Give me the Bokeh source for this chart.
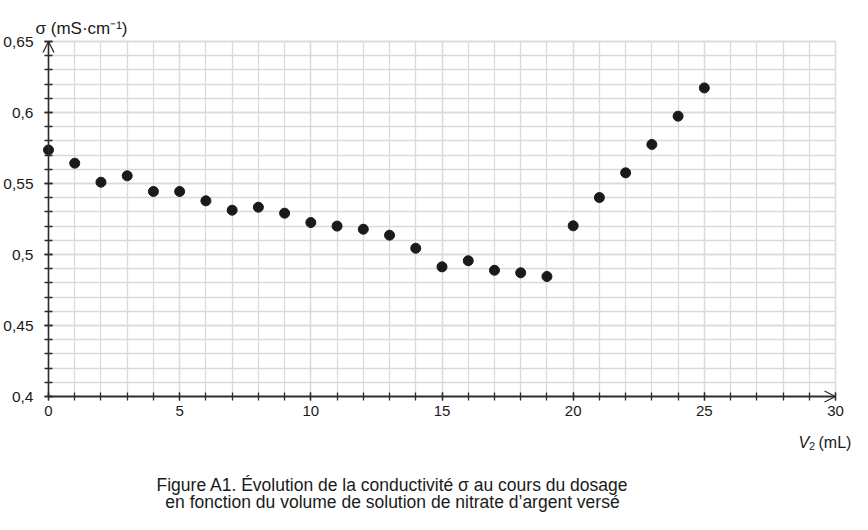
from bokeh.plotting import figure
from bokeh.models import Range1d, FixedTicker, Arrow, OpenHead, Label
from bokeh.embed import file_html
from bokeh.resources import INLINE

# ---------------- data ----------------
volume_ml = [0, 1, 2, 3, 4, 5, 6, 7, 8, 9, 10, 11, 12, 13, 14, 15, 16, 17, 18, 19,
             20, 21, 22, 23, 24, 25]
conductivity = [0.5736, 0.5643, 0.5509, 0.5554, 0.5444, 0.5444, 0.5378, 0.5312,
                0.5333, 0.5291, 0.5225, 0.5200, 0.5178, 0.5136, 0.5044, 0.4913,
                0.4956, 0.4889, 0.4871, 0.4845, 0.5202, 0.5401, 0.5575, 0.5775,
                0.5974, 0.6173]
x_major_ticks = [0, 5, 10, 15, 20, 25, 30]
x_minor_ticks = [0, 1, 2, 3, 4, 5, 6, 7, 8, 9, 10, 11, 12, 13, 14, 15, 16, 17, 18,
                 19, 20, 21, 22, 23, 24, 25, 26, 27, 28, 29, 30]
x_tick_labels = ["0", "5", "10", "15", "20", "25", "30"]
y_major_ticks = [0.4, 0.45, 0.5, 0.55, 0.6, 0.65]
y_minor_ticks = [0.4, 0.41, 0.42, 0.43, 0.44, 0.45, 0.46, 0.47, 0.48, 0.49, 0.5,
                 0.51, 0.52, 0.53, 0.54, 0.55, 0.56, 0.57, 0.58, 0.59, 0.6, 0.61,
                 0.62, 0.63, 0.64, 0.65]
y_tick_labels = ["0,4", "0,45", "0,5", "0,55", "0,6", "0,65"]
x_label_parts = ["V", "2", "(mL)"]
y_label = "σ (mS·cm⁻¹)"
caption_lines = ["Figure A1. Évolution de la conductivité σ au cours du dosage",
                 "en fonction du volume de solution de nitrate d’argent versé"]

# ---------------- layout ----------------
W, H = 852, 514
X0_PX, X1_PX = 48, 835      # canvas px of x=0 and x=30
Y1_PX, Y0_PX = 41, 396      # canvas px of y=0.65 and y=0.4
XMIN, XMAX, YMIN, YMAX = 0, 30, 0.4, 0.65
ux = (X1_PX - X0_PX) / (XMAX - XMIN)
uy = (Y0_PX - Y1_PX) / (YMAX - YMIN)


def px2x(cx):
    return XMIN + (cx - X0_PX) / ux


def px2y(cy):
    return YMIN + (Y0_PX - cy) / uy


FONT = "Liberation Sans"
AX = "#2b2b2b"
GRID = "#dadada"
TXT = "#1a1a1a"

# the frame covers the whole canvas; axes are placed at x=0 / y=0.4
p = figure(width=W, height=H, output_backend="svg", toolbar_location=None,
           x_range=Range1d(px2x(0), px2x(W)),
           y_range=Range1d(px2y(H), px2y(0)),
           min_border_left=0, min_border_right=0,
           min_border_top=0, min_border_bottom=0)
p.outline_line_color = None
p.background_fill_color = "white"
p.border_fill_color = "white"

xt = FixedTicker(ticks=x_major_ticks, minor_ticks=x_minor_ticks)
yt = FixedTicker(ticks=y_major_ticks, minor_ticks=y_minor_ticks)

xa = p.xaxis[0]
xa.ticker = xt
xa.fixed_location = YMIN
xa.bounds = (XMIN, XMAX)
xa.major_label_overrides = dict(zip(x_major_ticks, x_tick_labels))
ya = p.yaxis[0]
ya.ticker = yt
ya.fixed_location = XMIN
ya.bounds = (YMIN, YMAX)
ya.major_label_overrides = dict(zip(y_major_ticks, y_tick_labels))
for a in (xa, ya):
    a.axis_line_color = AX
    a.axis_line_width = 1.3
    a.major_tick_line_color = AX
    a.minor_tick_line_color = AX
    a.major_tick_line_width = 1.3
    a.minor_tick_line_width = 1.3
    a.major_tick_in = 4
    a.major_tick_out = 4
    a.minor_tick_in = 4
    a.minor_tick_out = 4
    a.major_label_text_font = FONT
    a.major_label_text_color = TXT
xa.major_label_text_font_size = "15px"
ya.major_label_text_font_size = "15.5px"
xa.major_label_standoff = 5
ya.major_label_standoff = 11

xg = p.xgrid[0]
xg.ticker = xt
xg.bounds = (XMIN, XMAX)
xg.cross_bounds = (YMIN, YMAX)
yg = p.ygrid[0]
yg.ticker = yt
yg.bounds = (YMIN, YMAX)
yg.cross_bounds = (XMIN, XMAX)
for g in (xg, yg):
    g.grid_line_color = GRID
    g.grid_line_width = 1.3
    g.minor_grid_line_color = GRID
    g.minor_grid_line_width = 1.3

# arrow heads at the ends of the axes
p.add_layout(Arrow(end=OpenHead(size=11, line_color=AX, line_width=1.3),
                   x_start=XMIN, y_start=YMIN, x_end=XMIN, y_end=YMAX,
                   line_color=AX, line_width=1.3))
p.add_layout(Arrow(end=OpenHead(size=11, line_color=AX, line_width=1.3),
                   x_start=XMIN, y_start=YMIN, x_end=XMAX, y_end=YMIN,
                   line_color=AX, line_width=1.3))

p.scatter(volume_ml, conductivity, size=10, color="#1a1a1a")

# axis titles
p.add_layout(Label(x=px2x(35), y=px2y(28), text=y_label, text_font=FONT,
                   text_font_size="17px", text_color=TXT, text_baseline="alphabetic"))
p.add_layout(Label(x=px2x(798), y=px2y(442), text=x_label_parts[0], text_font=FONT,
                   text_font_style="italic", text_font_size="16px", text_color=TXT,
                   text_baseline="alphabetic"))
p.add_layout(Label(x=px2x(808.5), y=px2y(445), text=x_label_parts[1], text_font=FONT,
                   text_font_size="11px", text_color=TXT, text_baseline="alphabetic"))
p.add_layout(Label(x=px2x(818), y=px2y(442), text=x_label_parts[2], text_font=FONT,
                   text_font_size="16px", text_color=TXT, text_baseline="alphabetic"))

# caption
for i, line in enumerate(caption_lines):
    p.add_layout(Label(x=px2x(392), y=px2y(484 + 17 * i), text=line, text_font=FONT,
                       text_font_size="17.5px", text_color=TXT, text_align="center",
                       text_baseline="alphabetic"))

open("out.html", "w").write(file_html(p, INLINE))
